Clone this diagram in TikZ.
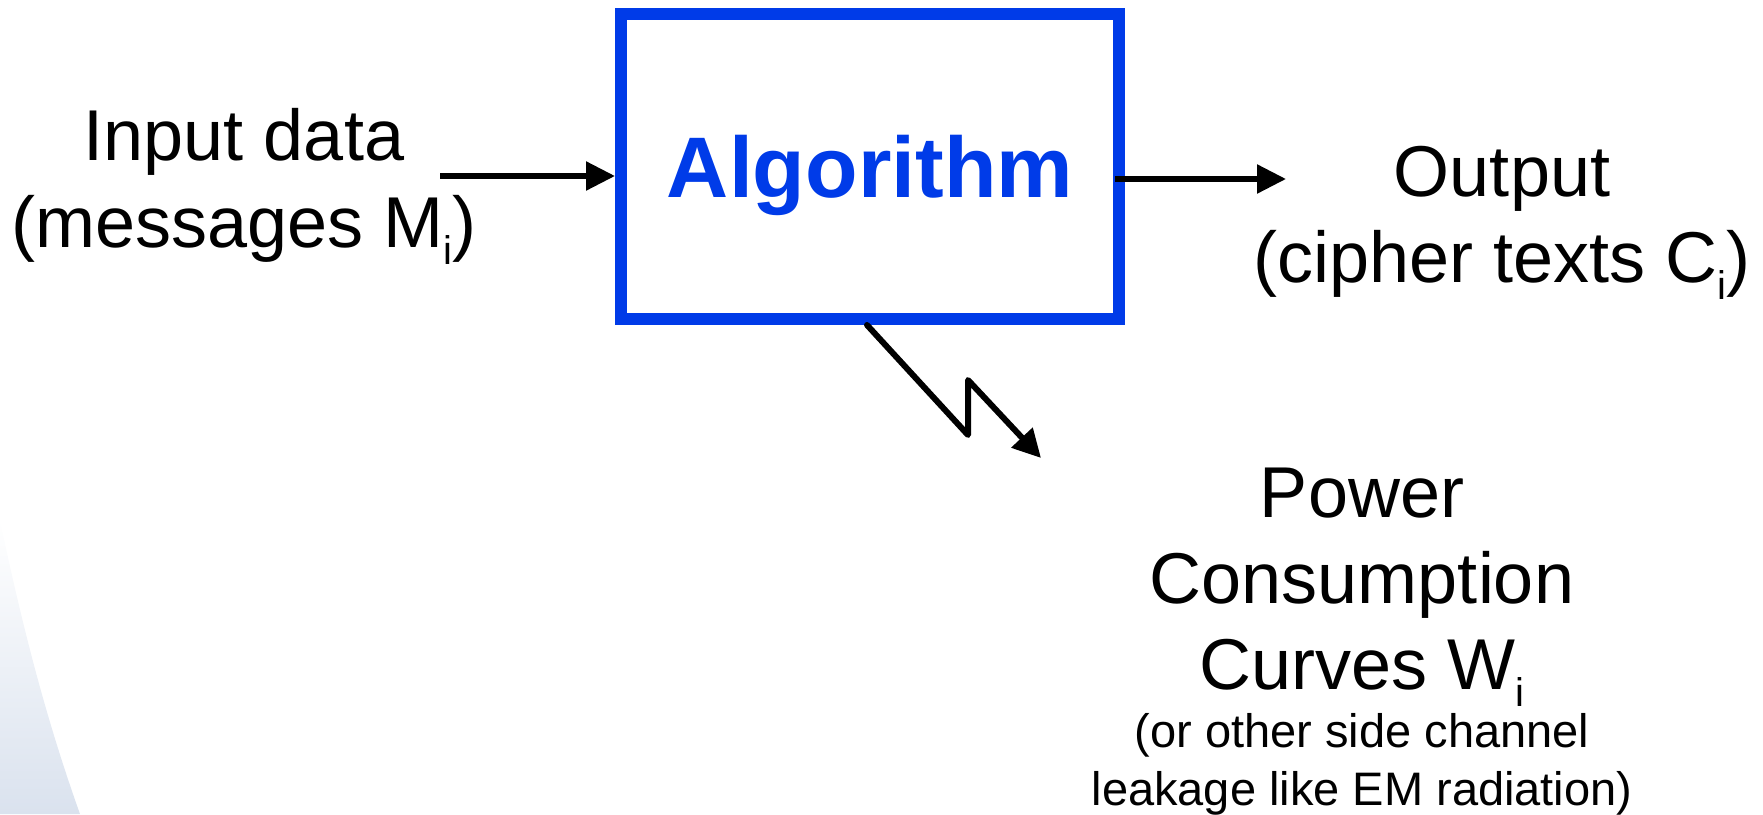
\documentclass[tikz,border=0pt]{standalone}
\usepackage{fontspec}
\setmainfont{Liberation Sans}
\usetikzlibrary{arrows.meta}
\definecolor{algblue}{RGB}{0,59,232}
\definecolor{bgblue}{RGB}{218,226,238}
\newcommand{\subi}{\raisebox{-17pt}{\fontsize{40}{40}\selectfont i}}
\begin{document}
\begin{tikzpicture}[x=1pt,y=-1pt,
  big/.style={font=\fontsize{72}{86}\selectfont, inner sep=0pt, anchor=base},
  small/.style={font=\fontsize{47}{58}\selectfont, inner sep=0pt, anchor=base},
  flow/.style={line width=5.5pt, -{Triangle[length=29pt,width=28pt]}},
  leak/.style={line width=6pt, line join=round, line cap=round, -{Triangle[length=28pt,width=28pt]}},
  algbox/.style={draw=algblue, line width=12pt, minimum width=498pt, minimum height=305pt,
    text=algblue, font=\fontsize{86}{86}\selectfont\bfseries, text depth=0pt, inner sep=0pt}
  ]
\useasboundingbox (0,0) rectangle (1763,814);
\shade[top color=white, bottom color=bgblue] (0,520) .. controls (25,640) and (50,730) .. (80,814) -- (0,814) -- cycle;

\node[algbox] (alg) at (870,166.5) {Algorithm};

\coordinate (inS) at (440,176);
\coordinate (outE) at (1286,179);
\coordinate (outS) at ([xshift=-10pt]alg.east);
\draw[flow] (inS) -- (inS -| alg.west);
\draw[flow] (outS |- outE) -- (outE);

\coordinate (lzA) at ([xshift=-3pt]alg.south);
\coordinate (lzB) at (968,435);
\coordinate (lzC) at (968,380);
\coordinate (lzE) at (1041,458);
\draw[leak] (lzA) -- (lzB) -- (lzC) -- (lzE);

\node[big] (in1) at (244,160) {Input data};
\node[big] (in2) at (244,247) {(messages M\subi)};
\node[big] (out1) at (1502,196) {Output};
\node[big] (out2) at (1502,282) {(cipher texts C\subi)};
\node[big] (pw1) at (1362,517) {Power};
\node[big] (pw2) at (1362,603) {Consumption};
\node[big] (pw3) at (1362,689) {Curves W\subi};
\node[small] (pw4) at (1362,747) {(or other side channel};
\node[small] (pw5) at (1362,805) {leakage like EM radiation)};
\end{tikzpicture}
\end{document}
